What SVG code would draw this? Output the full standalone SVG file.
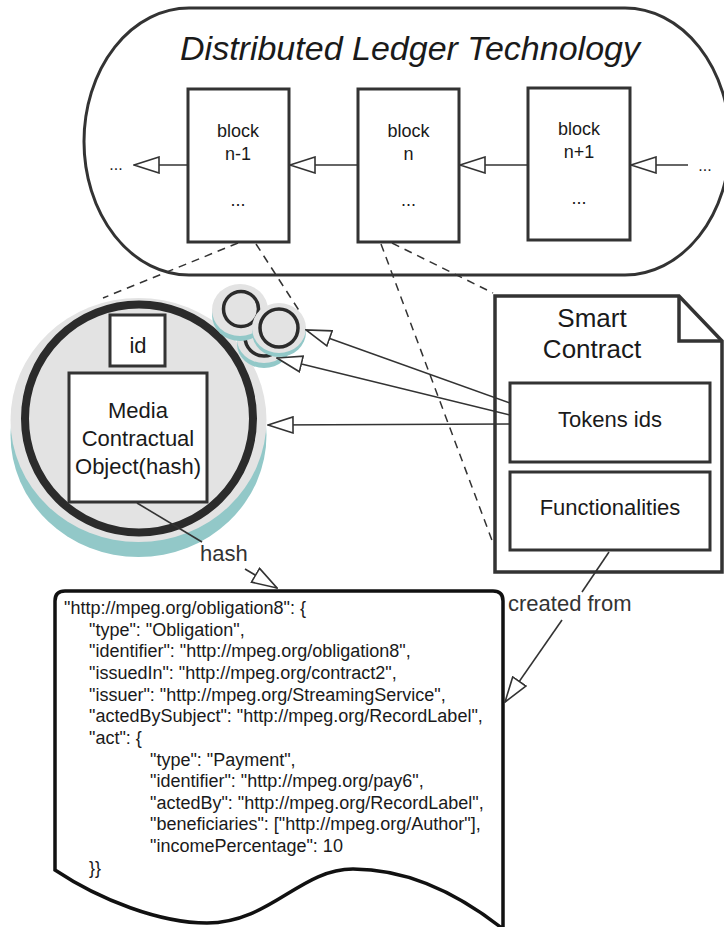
<svg xmlns="http://www.w3.org/2000/svg" width="724" height="927" viewBox="0 0 724 927">
  <style>
    text { font-family: "Liberation Sans", Arial, sans-serif; fill: #1a1a1a; }
    .box { fill: #ffffff; stroke: #333333; stroke-width: 3; }
    .blk { font-size: 18px; text-anchor: middle; }
    .big { font-size: 22px; text-anchor: middle; }
    .lbl { font-size: 22px; fill: #333333; }
    .code { font-size: 18px; }
    .dash { fill: none; stroke: #333333; stroke-width: 1.5; stroke-dasharray: 8 6; }
    .conn { fill: none; stroke: #333333; stroke-width: 1.6; }
    .arrow { marker-end: url(#hollow); }
    .disc { fill: #e3e3e3; }
    .shade { fill: #92c8c8; }
    .ring { fill: none; stroke: #2b2b2b; }
  </style>
  <defs>
    <marker id="hollow" viewBox="0 0 27 18" refX="26" refY="9" markerWidth="27" markerHeight="18" markerUnits="userSpaceOnUse" orient="auto">
      <path d="M1,1 L26,9 L1,17 Z" fill="#ffffff" stroke="#333333" stroke-width="1.6"/>
    </marker>
  </defs>

  <!-- ledger container -->
  <g id="dlt">
    <rect x="84" y="8" width="646" height="267" rx="105" ry="133.5" fill="#ffffff" stroke="#333333" stroke-width="3"/>
    <text x="410" y="60" font-size="34" font-style="italic" text-anchor="middle">Distributed Ledger Technology</text>
    <text x="116" y="170" font-size="16" text-anchor="middle">...</text>
    <text x="705" y="171" font-size="16" text-anchor="middle">...</text>
  </g>

  <g id="block-n-1">
    <rect class="box" x="188" y="89" width="101" height="153"/>
    <text class="blk" x="238" y="137">block</text>
    <text class="blk" x="238" y="160">n-1</text>
    <text class="blk" x="238" y="206">...</text>
  </g>
  <g id="block-n">
    <rect class="box" x="358" y="89" width="101" height="153"/>
    <text class="blk" x="408.5" y="137">block</text>
    <text class="blk" x="408.5" y="160">n</text>
    <text class="blk" x="408.5" y="206">...</text>
  </g>
  <g id="block-n1">
    <rect class="box" x="528" y="88" width="102" height="152"/>
    <text class="blk" x="579" y="135">block</text>
    <text class="blk" x="579" y="158">n+1</text>
    <text class="blk" x="579" y="204">...</text>
  </g>

  <!-- media contractual object with token circles -->
  <g id="mco">
    <ellipse class="shade" cx="138.5" cy="435" rx="128" ry="122"/>
    <ellipse class="disc" cx="138.5" cy="420" rx="128" ry="122"/>
    <circle class="ring" cx="139" cy="418.5" r="114" stroke-width="8"/>
    <rect class="box" x="110" y="315" width="55" height="51"/>
    <text class="big" x="138" y="353">id</text>
    <rect class="box" x="69" y="373" width="138" height="129"/>
    <text class="big" x="138" y="418">Media</text>
    <text class="big" x="138" y="446">Contractual</text>
    <text class="big" x="138" y="474">Object(hash)</text>
  </g>
  <g id="token-3">
    <ellipse class="shade" cx="264" cy="344" rx="27" ry="24"/>
    <ellipse class="disc" cx="264" cy="339" rx="27" ry="24"/>
    <circle class="ring" cx="264" cy="337" r="19" stroke-width="3.5"/>
  </g>
  <g id="token-1">
    <ellipse class="shade" cx="240" cy="315" rx="28" ry="26"/>
    <ellipse class="disc" cx="240" cy="310" rx="28" ry="26"/>
    <circle class="ring" cx="241" cy="309" r="17.5" stroke-width="3.5"/>
  </g>
  <g id="token-2">
    <ellipse class="shade" cx="279" cy="332" rx="27" ry="25"/>
    <ellipse class="disc" cx="279" cy="328" rx="27" ry="25"/>
    <circle class="ring" cx="279" cy="328" r="19" stroke-width="3.5"/>
  </g>

  <!-- smart contract note -->
  <g id="smart-contract">
    <path d="M495,296 L679,296 L722,341 L722,572 L495,572 Z" fill="#ffffff" stroke="#333333" stroke-width="3.5"/>
    <path d="M679,296 L679,341 L722,341" fill="none" stroke="#333333" stroke-width="3.5"/>
    <text x="592" y="327" font-size="26" text-anchor="middle">Smart</text>
    <text x="592" y="358" font-size="26" text-anchor="middle">Contract</text>
  </g>
  <g id="tokens-ids">
    <rect class="box" x="510" y="383" width="200" height="79"/>
    <text class="big" x="610" y="427">Tokens ids</text>
  </g>
  <g id="functionalities">
    <rect class="box" x="510" y="472" width="200" height="78"/>
    <text class="big" x="610" y="515">Functionalities</text>
  </g>

  <!-- obligation document -->
  <g id="obligation">
    <path d="M55,870 L55,601 Q55,591 65,591 L493,591 Q503,591 503,601 L503,929 C460,895 410,869 353,869 C300,869 270,923 207,923 C160,923 100,900 55,870 Z" fill="#ffffff" stroke="#111111" stroke-width="3.5"/>
    <text class="code" x="64" y="614">"http://mpeg.org/obligation8": {</text>
    <text class="code" x="89" y="636">"type": "Obligation",</text>
    <text class="code" x="89" y="657">"identifier": "http://mpeg.org/obligation8",</text>
    <text class="code" x="89" y="679">"issuedIn": "http://mpeg.org/contract2",</text>
    <text class="code" x="89" y="701">"issuer": "http://mpeg.org/StreamingService",</text>
    <text class="code" x="89" y="722">"actedBySubject": "http://mpeg.org/RecordLabel",</text>
    <text class="code" x="89" y="744">"act": {</text>
    <text class="code" x="150" y="766">"type": "Payment",</text>
    <text class="code" x="150" y="787">"identifier": "http://mpeg.org/pay6",</text>
    <text class="code" x="150" y="809">"actedBy": "http://mpeg.org/RecordLabel",</text>
    <text class="code" x="150" y="830">"beneficiaries": ["http://mpeg.org/Author"],</text>
    <text class="code" x="150" y="852">"incomePercentage": 10</text>
    <text class="code" x="89" y="874">}}</text>
  </g>

  <!-- connectors -->
  <g id="connectors">
    <line class="dash" x1="238" y1="243" x2="103" y2="298"/>
    <line class="dash" x1="256" y1="244" x2="300" y2="312"/>
    <line class="dash" x1="381" y1="244" x2="493" y2="543"/>
    <line class="dash" x1="392" y1="243" x2="493" y2="293"/>

    <line class="conn arrow" x1="528" y1="165" x2="460" y2="165"/>
    <line class="conn arrow" x1="358" y1="165" x2="290" y2="165"/>
    <line class="conn arrow" x1="188" y1="165" x2="134" y2="165"/>
    <line class="conn arrow" x1="688" y1="165" x2="631" y2="165"/>

    <line class="conn arrow" x1="510" y1="403" x2="306" y2="330"/>
    <line class="conn arrow" x1="510" y1="415" x2="277" y2="358"/>
    <line class="conn arrow" x1="510" y1="424" x2="268" y2="425"/>

    <line class="conn" x1="137" y1="503" x2="202" y2="542"/>
    <line class="conn arrow" x1="245" y1="569" x2="277" y2="588"/>
    <text class="lbl" x="200" y="561">hash</text>

    <line class="conn" x1="609" y1="552" x2="582" y2="592"/>
    <line class="conn arrow" x1="562" y1="620" x2="505" y2="702"/>
    <text class="lbl" x="508" y="611">created from</text>
  </g>
</svg>
